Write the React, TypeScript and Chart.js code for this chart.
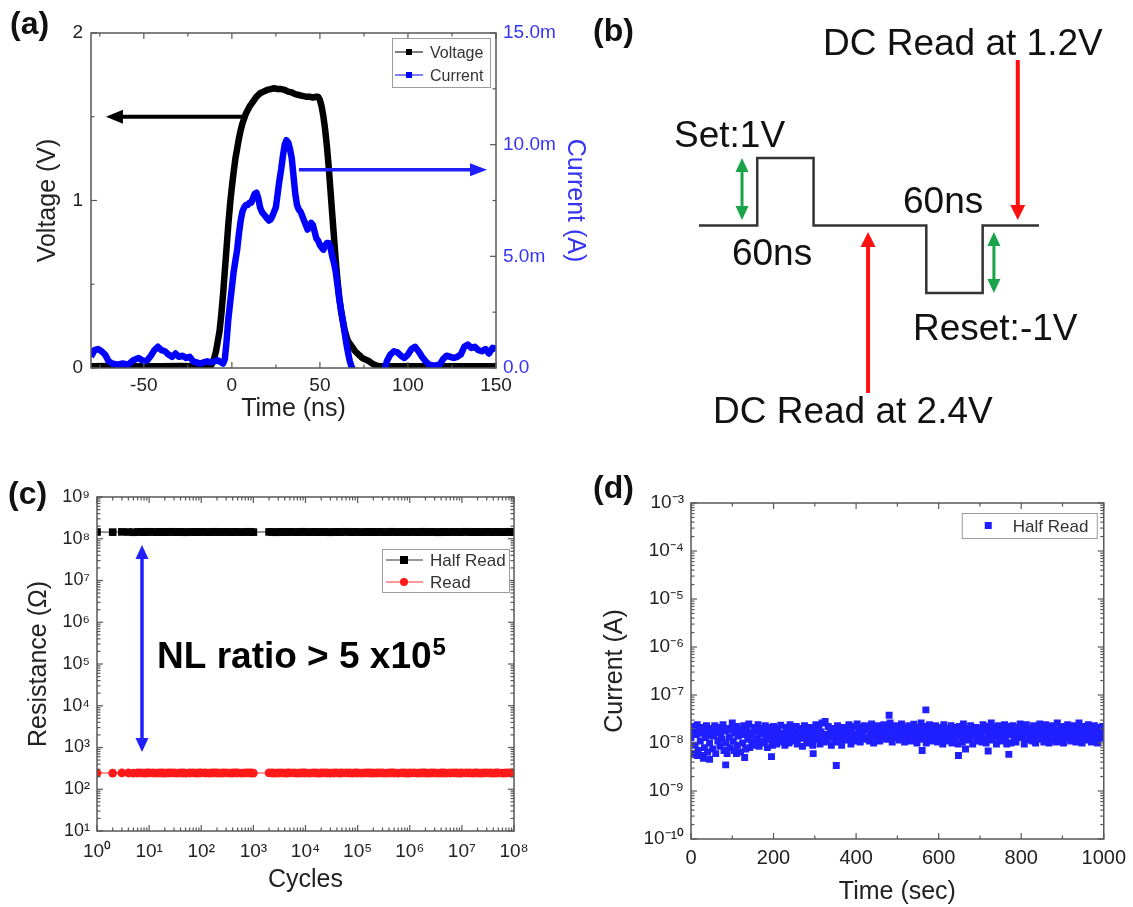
import React, { useEffect, useRef } from 'react';
import { Chart, registerables } from 'chart.js';

Chart.register(...registerables);

const FONT = "'Liberation Sans', Arial, Helvetica, sans-serif";
const INK = '#222222';
const FRAME = '#585858';
const BLUE = '#1f1fff';
const AXIS_BLUE = '#3434f2';

Chart.defaults.font.family = FONT;
Chart.defaults.color = INK;

// ---------------- Panel (a): pulse voltage / current ----------------
const timeTicksNs = [-50, 0, 50, 100, 150];
const timeTickLabels = ['-50', '0', '50', '100', '150'];
const timeMinorNs = [-75, -25, 25, 75, 125];
const voltTicks = [0, 1, 2];
const voltTickLabels = ['0', '1', '2'];
const voltMinor = [0.5, 1.5];
const currTicksMilliA = [0, 5, 10, 15];
const currTickLabels = ['0.0', '5.0m', '10.0m', '15.0m'];
const currMinorMilliA = [2.5, 7.5, 12.5];

const voltageTimeNs = [
  -80, -70, -60, -50, -40, -30, -20,
  -12, -11, -10, -9, -8, -7, -6, -5, -4, -3, -2, -1, 0, 1, 2, 3, 4, 5, 6, 7, 8,
  10, 12, 14, 16, 18, 20, 22, 24, 26, 28, 30, 32, 34, 36, 38, 40, 42, 44, 46, 48,
  49, 50, 51, 52, 53, 54, 55, 56, 57, 58, 59, 60, 61, 62, 63, 64, 65, 66,
  68, 70, 72, 74, 76, 78, 80, 82, 84,
  90, 100, 110, 120, 130, 140, 150,
];
const voltageV = [
  0.01, 0.012, 0.01, 0.011, 0.01, 0.012, 0.01,
  0.012, 0.03, 0.06, 0.1, 0.16, 0.22, 0.32, 0.44, 0.58, 0.72, 0.86, 0.98, 1.08, 1.17, 1.25, 1.31, 1.37, 1.42, 1.46, 1.49, 1.52,
  1.56, 1.59, 1.62, 1.64, 1.65, 1.66, 1.665, 1.67, 1.665, 1.665, 1.66, 1.65, 1.645, 1.635, 1.63, 1.625, 1.62, 1.62, 1.615, 1.62,
  1.62, 1.6, 1.56, 1.5, 1.42, 1.32, 1.2, 1.06, 0.92, 0.78, 0.64, 0.52, 0.42, 0.34, 0.28, 0.23, 0.19, 0.16,
  0.13, 0.1, 0.08, 0.06, 0.05, 0.04, 0.025, 0.015, 0.01,
  0.01, 0.01, 0.01, 0.01, 0.01, 0.01, 0.01,
];

const currentTimeNs = [
  -80, -78, -76, -74, -72, -70, -68, -65, -62, -59, -56, -53, -50, -48, -46, -44, -42, -40, -38, -36,
  -34, -32, -30, -28, -26, -24, -22, -20, -18, -16, -14, -12, -10, -8, -6,
  -5, -4, -3, -2, -1, 0, 1, 2, 3, 4, 5, 6, 7, 8, 9, 10, 11, 12, 13, 14, 15, 16, 17, 18, 19, 20,
  21, 22, 23, 24, 25, 26, 27, 28, 29, 30, 31, 32, 33, 34, 35, 36, 37, 38, 39, 40,
  41, 42, 43, 44, 45, 46, 47, 48, 49, 50, 51, 52, 53, 54, 55, 56, 57, 58, 59, 60,
  61, 62, 63, 64, 65, 66, 67, 68,
  70, 76, 82, 86, 88, 90, 92, 94, 96, 98, 100, 102, 104, 106, 108, 110, 112, 115, 118, 120,
  122, 124, 126, 128, 130, 132, 134, 136, 138, 140, 142, 144, 146, 148, 150,
];
const currentMilliA = [
  0.5, 0.8, 0.85, 0.75, 0.6, 0.3, 0.2, 0.15, 0.2, 0.15, 0.35, 0.45, 0.3, 0.35, 0.55, 0.8, 0.95, 0.8, 0.75, 0.6,
  0.5, 0.65, 0.5, 0.55, 0.45, 0.5, 0.3, 0.25, 0.2, 0.25, 0.3, 0.25, 0.3, 0.35, 0.25,
  0.2, 0.4, 1.2, 2.2, 2.9, 3.6, 4.3, 4.8, 5.3, 6.0, 6.6, 7.0, 7.2, 7.3, 7.3, 7.4, 7.4, 7.6, 7.8, 7.85, 7.6, 7.2, 7.0, 6.9, 6.8, 6.7,
  6.6, 6.65, 6.8, 7.0, 7.2, 7.8, 8.4, 8.9, 9.5, 10.0, 10.2, 10.1, 9.8, 9.4, 8.6, 7.8, 7.3, 7.1, 7.0, 6.8,
  6.6, 6.4, 6.2, 6.3, 6.5, 6.4, 6.1, 5.8, 5.7, 5.5, 5.4, 5.3, 5.5, 5.6, 5.6, 5.4, 5.0, 4.7, 4.3, 3.7,
  3.1, 2.6, 2.15, 1.6, 1.1, 0.67, 0.3, 0.05,
  -0.3, -0.3, -0.3, -0.3, 0.3, 0.6, 0.75, 0.7, 0.55, 0.45, 0.6, 0.85, 0.95, 0.75, 0.5, 0.3, 0.15, 0.1, 0.15, 0.4,
  0.55, 0.5, 0.45, 0.5, 0.6, 0.95, 1.05, 0.9, 0.95, 0.8, 0.75, 0.85, 0.65, 0.9, 0.85,
];

// ---------------- Panel (b): pulse scheme ----------------
const waveTimeNs = [0, 62, 62, 122, 122, 242, 242, 302, 302, 362];
const waveLevelV = [0, 0, 1, 1, 0, 0, -1, -1, 0, 0];

// ---------------- Panel (c): endurance ----------------
const cycleTicks = [1, 10, 100, 1e3, 1e4, 1e5, 1e6, 1e7, 1e8];
const cycleTickLabels = ['10⁰', '10¹', '10²', '10³', '10⁴', '10⁵', '10⁶', '10⁷', '10⁸'];
const resistanceTicks = [10, 100, 1e3, 1e4, 1e5, 1e6, 1e7, 1e8, 1e9];
const resistanceTickLabels = ['10¹', '10²', '10³', '10⁴', '10⁵', '10⁶', '10⁷', '10⁸', '10⁹'];

const cycles = [
  1, 2, 3, 4, 5, 6, 7, 8, 9,
  10, 12, 14, 16, 18, 20, 23, 26, 30, 35, 40, 45, 50, 60, 70, 80, 90,
  100, 120, 140, 160, 180, 200, 230, 260, 300, 350, 400, 450, 500, 600, 700, 800, 900,
  1000,
  2000, 2300, 2600, 3000, 3500, 4000, 4500, 5000, 6000, 7000, 8000, 9000,
  1e4, 1.2e4, 1.4e4, 1.6e4, 1.8e4, 2e4, 2.3e4, 2.6e4, 3e4, 3.5e4, 4e4, 4.5e4, 5e4, 6e4, 7e4, 8e4, 9e4,
  1e5, 1.2e5, 1.4e5, 1.6e5, 1.8e5, 2e5, 2.3e5, 2.6e5, 3e5, 3.5e5, 4e5, 4.5e5, 5e5, 6e5, 7e5, 8e5, 9e5,
  1e6, 1.2e6, 1.4e6, 1.6e6, 1.8e6, 2e6, 2.3e6, 2.6e6, 3e6, 3.5e6, 4e6, 4.5e6, 5e6, 6e6, 7e6, 8e6, 9e6,
  1e7, 1.2e7, 1.4e7, 1.6e7, 1.8e7, 2e7, 2.3e7, 2.6e7, 3e7, 3.5e7, 4e7, 4.5e7, 5e7, 6e7, 7e7, 8e7, 9e7,
  1e8,
];
const halfReadOhm = [
  1.45e8, 1.44e8, 1.46e8, 1.45e8, 1.43e8, 1.45e8, 1.46e8, 1.44e8, 1.45e8,
  1.47e8, 1.45e8, 1.44e8, 1.46e8, 1.45e8, 1.44e8, 1.45e8, 1.47e8, 1.45e8, 1.44e8, 1.46e8, 1.45e8, 1.43e8, 1.45e8, 1.46e8, 1.44e8, 1.45e8,
  1.46e8, 1.45e8, 1.44e8, 1.45e8, 1.47e8, 1.45e8, 1.44e8, 1.45e8, 1.46e8, 1.44e8, 1.45e8, 1.46e8, 1.45e8, 1.44e8, 1.45e8, 1.47e8, 1.45e8,
  1.44e8,
  1.46e8, 1.45e8, 1.43e8, 1.45e8, 1.46e8, 1.44e8, 1.45e8, 1.46e8, 1.45e8, 1.44e8, 1.45e8, 1.47e8,
  1.45e8, 1.44e8, 1.46e8, 1.45e8, 1.44e8, 1.45e8, 1.46e8, 1.45e8, 1.43e8, 1.45e8, 1.46e8, 1.44e8, 1.45e8, 1.47e8, 1.45e8, 1.44e8, 1.46e8,
  1.45e8, 1.44e8, 1.45e8, 1.46e8, 1.45e8, 1.44e8, 1.45e8, 1.46e8, 1.45e8, 1.44e8, 1.45e8, 1.47e8, 1.45e8, 1.44e8, 1.46e8, 1.45e8, 1.44e8,
  1.45e8, 1.46e8, 1.44e8, 1.45e8, 1.47e8, 1.45e8, 1.44e8, 1.46e8, 1.45e8, 1.43e8, 1.45e8, 1.46e8, 1.44e8, 1.45e8, 1.46e8, 1.45e8, 1.44e8,
  1.45e8, 1.47e8, 1.45e8, 1.44e8, 1.46e8, 1.45e8, 1.44e8, 1.45e8, 1.46e8, 1.45e8, 1.44e8, 1.45e8, 1.46e8, 1.44e8, 1.45e8, 1.47e8, 1.45e8,
  1.45e8,
];
const readOhm = [
  245, 244, 246, 245, 243, 245, 246, 244, 245,
  247, 245, 244, 246, 245, 244, 245, 247, 245, 244, 246, 245, 243, 245, 246, 244, 245,
  246, 245, 244, 245, 247, 245, 244, 245, 246, 244, 245, 246, 245, 244, 245, 247, 245,
  244,
  246, 245, 243, 245, 246, 244, 245, 246, 245, 244, 245, 247,
  245, 244, 246, 245, 244, 245, 246, 245, 243, 245, 246, 244, 245, 247, 245, 244, 246,
  245, 244, 245, 246, 245, 244, 245, 246, 245, 244, 245, 247, 245, 244, 246, 245, 244,
  245, 246, 244, 245, 247, 245, 244, 246, 245, 243, 245, 246, 244, 245, 246, 245, 244,
  245, 247, 245, 244, 246, 245, 244, 245, 246, 245, 244, 245, 246, 244, 245, 247, 245,
  245,
];

// ---------------- Panel (d): half-read retention ----------------
const timeSecTicks = [0, 200, 400, 600, 800, 1000];
const timeSecTickLabels = ['0', '200', '400', '600', '800', '1000'];
const timeSecMinor = [100, 300, 500, 700, 900];
const currentTicksA = [1e-10, 1e-9, 1e-8, 1e-7, 1e-6, 1e-5, 1e-4, 1e-3];
const currentTickLabelsA = ['10⁻¹⁰', '10⁻⁹', '10⁻⁸', '10⁻⁷', '10⁻⁶', '10⁻⁵', '10⁻⁴', '10⁻³'];

const halfReadTimeSec = [
  0, 2.5, 5, 7.5, 10, 12.5, 15, 17.5, 20, 22.5,
  25, 27.5, 30, 32.5, 35, 37.5, 40, 42.5, 45, 47.5,
  50, 52.5, 55, 57.5, 60, 62.5, 65, 67.5, 70, 72.5,
  75, 77.5, 80, 82.5, 85, 87.5, 90, 92.5, 95, 97.5,
  100, 102.5, 105, 107.5, 110, 112.5, 115, 117.5, 120, 122.5,
  125, 127.5, 130, 132.5, 135, 137.5, 140, 142.5, 145, 147.5,
  150, 152.5, 155, 157.5, 160, 162.5, 165, 167.5, 170, 172.5,
  175, 177.5, 180, 182.5, 185, 187.5, 190, 192.5, 195, 197.5,
  200, 202.5, 205, 207.5, 210, 212.5, 215, 217.5, 220, 222.5,
  225, 227.5, 230, 232.5, 235, 237.5, 240, 242.5, 245, 247.5,
  250, 252.5, 255, 257.5, 260, 262.5, 265, 267.5, 270, 272.5,
  275, 277.5, 280, 282.5, 285, 287.5, 290, 292.5, 295, 297.5,
  300, 302.5, 305, 307.5, 310, 312.5, 315, 317.5, 320, 322.5,
  325, 327.5, 330, 332.5, 335, 337.5, 340, 342.5, 345, 347.5,
  350, 352.5, 355, 357.5, 360, 362.5, 365, 367.5, 370, 372.5,
  375, 377.5, 380, 382.5, 385, 387.5, 390, 392.5, 395, 397.5,
  400, 402.5, 405, 407.5, 410, 412.5, 415, 417.5, 420, 422.5,
  425, 427.5, 430, 432.5, 435, 437.5, 440, 442.5, 445, 447.5,
  450, 452.5, 455, 457.5, 460, 462.5, 465, 467.5, 470, 472.5,
  475, 477.5, 480, 482.5, 485, 487.5, 490, 492.5, 495, 497.5,
  500, 502.5, 505, 507.5, 510, 512.5, 515, 517.5, 520, 522.5,
  525, 527.5, 530, 532.5, 535, 537.5, 540, 542.5, 545, 547.5,
  550, 552.5, 555, 557.5, 560, 562.5, 565, 567.5, 570, 572.5,
  575, 577.5, 580, 582.5, 585, 587.5, 590, 592.5, 595, 597.5,
  600, 602.5, 605, 607.5, 610, 612.5, 615, 617.5, 620, 622.5,
  625, 627.5, 630, 632.5, 635, 637.5, 640, 642.5, 645, 647.5,
  650, 652.5, 655, 657.5, 660, 662.5, 665, 667.5, 670, 672.5,
  675, 677.5, 680, 682.5, 685, 687.5, 690, 692.5, 695, 697.5,
  700, 702.5, 705, 707.5, 710, 712.5, 715, 717.5, 720, 722.5,
  725, 727.5, 730, 732.5, 735, 737.5, 740, 742.5, 745, 747.5,
  750, 752.5, 755, 757.5, 760, 762.5, 765, 767.5, 770, 772.5,
  775, 777.5, 780, 782.5, 785, 787.5, 790, 792.5, 795, 797.5,
  800, 802.5, 805, 807.5, 810, 812.5, 815, 817.5, 820, 822.5,
  825, 827.5, 830, 832.5, 835, 837.5, 840, 842.5, 845, 847.5,
  850, 852.5, 855, 857.5, 860, 862.5, 865, 867.5, 870, 872.5,
  875, 877.5, 880, 882.5, 885, 887.5, 890, 892.5, 895, 897.5,
  900, 902.5, 905, 907.5, 910, 912.5, 915, 917.5, 920, 922.5,
  925, 927.5, 930, 932.5, 935, 937.5, 940, 942.5, 945, 947.5,
  950, 952.5, 955, 957.5, 960, 962.5, 965, 967.5, 970, 972.5,
  975, 977.5, 980, 982.5, 985, 987.5, 990, 992.5, 995, 997.5,
  1000,
];
const halfReadCurrentA = [
  1.3e-8, 2.2e-8, 0.6e-8, 1.7e-8, 0.9e-8, 1.5e-8, 2.4e-8, 0.7e-8, 1.9e-8, 1.1e-8,
  0.55e-8, 1.6e-8, 2.1e-8, 0.8e-8, 1.3e-8, 2.3e-8, 0.65e-8, 1.8e-8, 1.0e-8, 1.45e-8,
  2.0e-8, 0.75e-8, 1.4e-8, 2.3e-8, 0.6e-8, 1.65e-8, 1.1e-8, 2.1e-8, 0.85e-8, 1.5e-8,
  1.2e-8, 2.4e-8, 0.7e-8, 1.8e-8, 1.0e-8, 0.6e-8, 2.0e-8, 1.35e-8, 0.8e-8, 1.9e-8,
  2.6e-8, 1.1e-8, 0.7e-8, 1.6e-8, 2.2e-8, 0.9e-8, 1.4e-8, 2.0e-8, 0.65e-8, 1.7e-8,
  1.0e-8, 2.3e-8, 1.5e-8, 0.75e-8, 1.9e-8, 1.2e-8, 2.5e-8, 0.8e-8, 1.6e-8, 1.05e-8,
  1.45e-8, 2.1e-8, 0.9e-8, 1.75e-8, 1.2e-8, 2.4e-8, 0.85e-8, 1.55e-8, 2.0e-8, 1.1e-8,
  1.8e-8, 1.0e-8, 2.3e-8, 1.3e-8, 0.8e-8, 1.65e-8, 2.1e-8, 1.15e-8, 1.5e-8, 0.9e-8,
  2.2e-8, 1.25e-8, 1.7e-8, 0.95e-8, 2.0e-8, 1.4e-8, 1.05e-8, 2.35e-8, 1.6e-8, 1.15e-8,
  1.5e-8, 0.9e-8, 2.1e-8, 1.3e-8, 1.8e-8, 1.0e-8, 2.4e-8, 1.6e-8, 1.2e-8, 1.95e-8,
  1.1e-8, 1.7e-8, 2.2e-8, 0.95e-8, 1.45e-8, 2.0e-8, 1.25e-8, 1.8e-8, 0.85e-8, 1.6e-8,
  2.3e-8, 1.35e-8, 1.0e-8, 1.9e-8, 1.5e-8, 2.1e-8, 1.15e-8, 1.7e-8, 0.9e-8, 1.4e-8,
  1.8e-8, 2.4e-8, 1.2e-8, 1.55e-8, 2.0e-8, 0.95e-8, 1.7e-8, 2.6e-8, 1.3e-8, 1.05e-8,
  2.8e-8, 1.5e-8, 1.1e-8, 2.2e-8, 1.35e-8, 1.8e-8, 0.9e-8, 2.0e-8, 1.6e-8, 1.25e-8,
  1.7e-8, 1.05e-8, 2.3e-8, 1.45e-8, 1.9e-8, 1.2e-8, 0.9e-8, 2.1e-8, 1.55e-8, 1.3e-8,
  2.0e-8, 1.15e-8, 1.6e-8, 2.4e-8, 1.3e-8, 0.95e-8, 1.85e-8, 1.4e-8, 2.2e-8, 1.1e-8,
  1.5e-8, 2.5e-8, 1.25e-8, 1.8e-8, 1.05e-8, 2.1e-8, 1.6e-8, 1.35e-8, 2.3e-8, 1.2e-8,
  1.9e-8, 1.3e-8, 2.2e-8, 1.1e-8, 1.7e-8, 2.5e-8, 1.45e-8, 1.0e-8, 2.0e-8, 1.6e-8,
  1.35e-8, 2.3e-8, 1.55e-8, 1.1e-8, 2.0e-8, 1.75e-8, 1.25e-8, 2.4e-8, 1.5e-8, 1.9e-8,
  1.2e-8, 2.1e-8, 1.65e-8, 2.6e-8, 1.4e-8, 1.05e-8, 1.95e-8, 2.3e-8, 1.3e-8, 1.7e-8,
  2.2e-8, 1.5e-8, 1.15e-8, 1.85e-8, 2.5e-8, 1.3e-8, 1.7e-8, 1.05e-8, 2.1e-8, 1.6e-8,
  1.4e-8, 2.3e-8, 1.8e-8, 1.1e-8, 2.0e-8, 1.55e-8, 2.45e-8, 1.25e-8, 1.75e-8, 1.0e-8,
  2.1e-8, 1.35e-8, 1.9e-8, 2.6e-8, 1.2e-8, 1.6e-8, 2.2e-8, 1.45e-8, 1.0e-8, 1.8e-8,
  1.3e-8, 2.4e-8, 1.7e-8, 1.1e-8, 2.0e-8, 1.5e-8, 1.25e-8, 2.3e-8, 1.85e-8, 1.05e-8,
  1.6e-8, 2.1e-8, 1.2e-8, 1.9e-8, 0.95e-8, 2.4e-8, 1.45e-8, 1.75e-8, 1.1e-8, 2.0e-8,
  1.35e-8, 1.8e-8, 2.3e-8, 1.0e-8, 1.6e-8, 2.1e-8, 1.25e-8, 1.9e-8, 1.5e-8, 0.95e-8,
  2.2e-8, 1.4e-8, 1.7e-8, 1.05e-8, 2.5e-8, 1.3e-8, 1.85e-8, 1.15e-8, 2.0e-8, 1.55e-8,
  1.2e-8, 2.3e-8, 1.6e-8, 0.95e-8, 1.9e-8, 1.4e-8, 2.1e-8, 1.1e-8, 1.75e-8, 1.3e-8,
  2.0e-8, 1.5e-8, 1.05e-8, 2.4e-8, 1.25e-8, 1.8e-8, 1.0e-8, 2.2e-8, 1.6e-8, 1.35e-8,
  1.7e-8, 2.6e-8, 1.15e-8, 1.9e-8, 1.4e-8, 2.1e-8, 0.95e-8, 1.55e-8, 2.3e-8, 1.2e-8,
  1.45e-8, 2.0e-8, 1.1e-8, 1.75e-8, 2.4e-8, 1.3e-8, 0.95e-8, 1.85e-8, 1.5e-8, 2.2e-8,
  1.0e-8, 1.6e-8, 2.3e-8, 1.25e-8, 1.9e-8, 1.05e-8, 2.1e-8, 1.4e-8, 1.7e-8, 2.5e-8,
  1.3e-8, 2.2e-8, 1.55e-8, 0.95e-8, 1.8e-8, 2.4e-8, 1.15e-8, 1.65e-8, 2.0e-8, 1.25e-8,
  1.9e-8, 1.1e-8, 2.3e-8, 1.5e-8, 1.0e-8, 2.1e-8, 1.35e-8, 1.75e-8, 2.5e-8, 1.2e-8,
  1.6e-8, 2.0e-8, 1.05e-8, 1.85e-8, 2.4e-8, 1.3e-8, 1.5e-8, 1.0e-8, 2.2e-8, 1.7e-8,
  1.15e-8, 2.3e-8, 1.45e-8, 1.9e-8, 1.05e-8, 2.6e-8, 1.35e-8, 1.8e-8, 1.1e-8, 2.1e-8,
  1.5e-8, 1.0e-8, 2.2e-8, 1.7e-8, 1.25e-8, 2.4e-8, 1.4e-8, 1.95e-8, 1.1e-8, 1.6e-8,
  2.3e-8, 1.3e-8, 1.8e-8, 1.05e-8, 2.1e-8, 1.5e-8, 2.6e-8, 1.2e-8, 1.75e-8, 1.0e-8,
  1.9e-8, 1.4e-8, 2.2e-8, 1.15e-8, 1.65e-8, 2.4e-8, 1.3e-8, 1.85e-8, 1.05e-8, 2.0e-8,
  1.5e-8, 2.3e-8, 1.2e-8, 1.75e-8, 1.0e-8, 2.1e-8, 1.45e-8, 1.9e-8, 1.25e-8, 2.2e-8,
  1.6e-8,
];
const outlierTimeSec = [15, 30, 45, 84, 110, 130, 195, 296, 352, 480, 560, 569, 648, 665, 720, 770];
const outlierCurrentA = [5.5e-9, 4.8e-9, 4.6e-9, 3.5e-9, 6.0e-9, 5.0e-9, 5.2e-9, 6.0e-9, 3.4e-9, 3.8e-8, 7.0e-9, 4.9e-8, 5.5e-9, 7.5e-9, 6.8e-9, 5.8e-9];

// ---------------- helpers ----------------
type Side = 'left' | 'right' | 'top' | 'bottom';
interface TickSpec { scale: string; major: number[]; minor: number[]; sides: Side[] }

function logMinors(ticks: number[]): number[] {
  const out: number[] = [];
  for (let i = 0; i < ticks.length - 1; i++) {
    for (let m = 2; m <= 9; m++) out.push(ticks[i] * m);
  }
  return out;
}

function framePlugin(specs: TickSpec[]) {
  return {
    id: 'frameTicks',
    afterDatasetsDraw(chart: any) {
      const { ctx, chartArea: a } = chart;
      ctx.save();
      ctx.strokeStyle = FRAME;
      ctx.lineWidth = 1.5;
      ctx.strokeRect(a.left, a.top, a.right - a.left, a.bottom - a.top);
      ctx.lineWidth = 1.2;
      specs.forEach((s) => {
        const sc = chart.scales[s.scale];
        const mark = (v: number, len: number) => {
          const p = sc.getPixelForValue(v);
          s.sides.forEach((side) => {
            ctx.beginPath();
            if (side === 'bottom') { ctx.moveTo(p, a.bottom); ctx.lineTo(p, a.bottom - len); }
            if (side === 'top') { ctx.moveTo(p, a.top); ctx.lineTo(p, a.top + len); }
            if (side === 'left') { ctx.moveTo(a.left, p); ctx.lineTo(a.left + len, p); }
            if (side === 'right') { ctx.moveTo(a.right, p); ctx.lineTo(a.right - len, p); }
            ctx.stroke();
          });
        };
        s.major.forEach((v) => mark(v, 6));
        s.minor.forEach((v) => mark(v, 3.5));
      });
      ctx.restore();
    },
  };
}

function drawArrow(ctx: CanvasRenderingContext2D, x1: number, y1: number, x2: number, y2: number,
  color: string, width: number, headLen: number, headW: number, both: boolean) {
  const ang = Math.atan2(y2 - y1, x2 - x1);
  const c = Math.cos(ang);
  const s = Math.sin(ang);
  const head = (x: number, y: number, dir: number) => {
    const cc = Math.cos(dir);
    const ss = Math.sin(dir);
    ctx.beginPath();
    ctx.moveTo(x, y);
    ctx.lineTo(x - headLen * cc + (headW / 2) * ss, y - headLen * ss - (headW / 2) * cc);
    ctx.lineTo(x - headLen * cc - (headW / 2) * ss, y - headLen * ss + (headW / 2) * cc);
    ctx.closePath();
    ctx.fill();
  };
  ctx.save();
  ctx.strokeStyle = color;
  ctx.fillStyle = color;
  ctx.lineWidth = width;
  const sx = both ? x1 + headLen * 0.8 * c : x1;
  const sy = both ? y1 + headLen * 0.8 * s : y1;
  ctx.beginPath();
  ctx.moveTo(sx, sy);
  ctx.lineTo(x2 - headLen * 0.8 * c, y2 - headLen * 0.8 * s);
  ctx.stroke();
  head(x2, y2, ang);
  if (both) head(x1, y1, ang + Math.PI);
  ctx.restore();
}

function drawText(ctx: CanvasRenderingContext2D, str: string, x: number, y: number, size: number,
  color: string, weight = 'normal', align: CanvasTextAlign = 'left') {
  ctx.save();
  ctx.font = `${weight} ${size}px ${FONT}`;
  ctx.fillStyle = color;
  ctx.textAlign = align;
  ctx.textBaseline = 'alphabetic';
  ctx.fillText(str, x, y);
  ctx.restore();
}

function legendFrame(ctx: CanvasRenderingContext2D, x: number, y: number, w: number, h: number) {
  ctx.save();
  ctx.fillStyle = '#ffffff';
  ctx.fillRect(x, y, w, h);
  ctx.strokeStyle = '#9c9c9c';
  ctx.lineWidth = 1;
  ctx.strokeRect(x + 0.5, y + 0.5, w, h);
  ctx.restore();
}

function fixedTicks(values: number[]) {
  return (scale: any) => { scale.ticks = values.map((v) => ({ value: v })); };
}

const baseOptions = {
  animation: false,
  responsive: false,
  maintainAspectRatio: false,
  devicePixelRatio: 1,
  events: [],
};

// ---------------- chart configs ----------------
function makePanelA(): any {
  const annotations = {
    id: 'annotA',
    afterDraw(chart: any) {
      const { ctx, chartArea: a } = chart;
      const xs = chart.scales.x;
      const ys = chart.scales.y;
      const y2 = chart.scales.y2;
      drawText(ctx, '(a)', 10, 34, 32, '#111', 'bold');
      drawArrow(ctx, xs.getPixelForValue(8), ys.getPixelForValue(1.5), xs.getPixelForValue(-71.5), ys.getPixelForValue(1.5), '#000', 4, 17, 14, false);
      drawArrow(ctx, xs.getPixelForValue(38.1), y2.getPixelForValue(8.88), xs.getPixelForValue(144.9), y2.getPixelForValue(8.88), BLUE, 3.5, 17, 13, false);
      const lx = a.right - 104;
      const ly = a.top + 5;
      legendFrame(ctx, lx, ly, 98, 49);
      const rows = [
        { label: 'Voltage', color: '#000', y: ly + 14 },
        { label: 'Current', color: '#0000ff', y: ly + 37 },
      ];
      rows.forEach((r) => {
        ctx.save();
        ctx.strokeStyle = r.color;
        ctx.lineWidth = 1;
        ctx.beginPath();
        ctx.moveTo(lx + 3, r.y);
        ctx.lineTo(lx + 31, r.y);
        ctx.stroke();
        ctx.fillStyle = r.color;
        ctx.fillRect(lx + 14, r.y - 3, 6, 6);
        ctx.restore();
        drawText(ctx, r.label, lx + 38, r.y + 6, 16, '#333');
      });
    },
  };
  return {
    type: 'scatter',
    data: {
      datasets: [
        {
          label: 'Current',
          data: currentTimeNs.map((t, i) => ({ x: t, y: currentMilliA[i] })),
          yAxisID: 'y2', showLine: true, borderColor: '#0000ff', borderWidth: 6.5,
          pointRadius: 0, clip: 0, borderJoinStyle: 'round',
        },
        {
          label: 'Voltage',
          data: voltageTimeNs.map((t, i) => ({ x: t, y: voltageV[i] })),
          yAxisID: 'y', showLine: true, borderColor: '#000000', borderWidth: 6.5,
          pointRadius: 0, clip: 0, borderJoinStyle: 'round',
        },
      ],
    },
    options: {
      ...baseOptions,
      layout: { padding: { top: 33, left: 0, right: 0, bottom: 0 } },
      plugins: { legend: { display: false }, tooltip: { enabled: false } },
      scales: {
        x: {
          type: 'linear', position: 'bottom', min: -80, max: 150,
          grid: { display: false, drawTicks: false }, border: { display: false },
          afterBuildTicks: fixedTicks(timeTicksNs),
          afterFit: (s: any) => { s.height = 62; },
          ticks: {
            callback: (v: number) => timeTickLabels[timeTicksNs.indexOf(v)],
            color: INK, font: { size: 19 }, padding: 6, maxRotation: 0, autoSkip: false,
          },
          title: { display: true, text: 'Time (ns)', color: INK, font: { size: 25 }, padding: { top: 0, bottom: 6 } },
        },
        y: {
          type: 'linear', position: 'left', min: 0, max: 2,
          grid: { display: false, drawTicks: false }, border: { display: false },
          afterBuildTicks: fixedTicks(voltTicks),
          afterFit: (s: any) => { s.width = 91; },
          ticks: {
            callback: (v: number) => voltTickLabels[voltTicks.indexOf(v)],
            color: INK, font: { size: 19 }, padding: 8, autoSkip: false,
          },
          title: { display: true, text: 'Voltage (V)', color: INK, font: { size: 25 }, padding: { top: 33, bottom: 0 } },
        },
        y2: {
          type: 'linear', position: 'right', min: 0, max: 15,
          grid: { display: false, drawTicks: false }, border: { display: false },
          afterBuildTicks: fixedTicks(currTicksMilliA),
          afterFit: (s: any) => { s.width = 104; },
          ticks: {
            callback: (v: number) => currTickLabels[currTicksMilliA.indexOf(v)],
            color: AXIS_BLUE, font: { size: 19 }, padding: 7, autoSkip: false,
          },
          title: { display: true, text: 'Current (A)', color: AXIS_BLUE, font: { size: 25 }, padding: { top: 10, bottom: 0 } },
        },
      },
    },
    plugins: [
      framePlugin([
        { scale: 'x', major: timeTicksNs, minor: timeMinorNs, sides: ['bottom', 'top'] },
        { scale: 'y', major: voltTicks, minor: voltMinor, sides: ['left'] },
        { scale: 'y2', major: currTicksMilliA, minor: currMinorMilliA, sides: ['right'] },
      ]),
      annotations,
    ],
  };
}

function makePanelB(): any {
  const annotations = {
    id: 'annotB',
    afterDraw(chart: any) {
      const { ctx } = chart;
      const xs = chart.scales.x;
      const ys = chart.scales.y;
      const X = (t: number) => xs.getPixelForValue(t);
      const Y = (v: number) => ys.getPixelForValue(v);
      drawText(ctx, '(b)', 33, 41, 32, '#111', 'bold');
      const RED = '#ff1010';
      const GREEN = '#19a34a';
      drawArrow(ctx, X(339.4), Y(2.452), X(339.4), Y(0.081), RED, 4, 15, 15, false);
      drawArrow(ctx, X(180), Y(-2.48), X(180), Y(-0.096), RED, 4, 15, 15, false);
      drawArrow(ctx, X(45.8), Y(1.0), X(45.8), Y(0.081), GREEN, 3, 14, 13, true);
      drawArrow(ctx, X(314), Y(-0.096), X(314), Y(-1.0), GREEN, 3, 14, 13, true);
      const sz = 37;
      drawText(ctx, 'DC Read at 1.2V', X(132), Y(2.526), sz, '#111');
      drawText(ctx, 'Set:1V', X(-26.6), Y(1.163), sz, '#111');
      drawText(ctx, '60ns', X(35.1), Y(-0.585), sz, '#111');
      drawText(ctx, '60ns', X(217.2), Y(0.185), sz, '#111');
      drawText(ctx, 'Reset:-1V', X(227.8), Y(-1.696), sz, '#111');
      drawText(ctx, 'DC Read at 2.4V', X(14.9), Y(-2.926), sz, '#111');
    },
  };
  return {
    type: 'scatter',
    data: {
      datasets: [
        {
          label: 'Pulse',
          data: waveTimeNs.map((t, i) => ({ x: t, y: waveLevelV[i] })),
          showLine: true, borderColor: '#333333', borderWidth: 2.5, pointRadius: 0, clip: false,
        },
      ],
    },
    options: {
      ...baseOptions,
      layout: { padding: { left: 139, right: 94, top: 158, bottom: 137 } },
      plugins: { legend: { display: false }, tooltip: { enabled: false } },
      scales: {
        x: { type: 'linear', min: 0, max: 362, display: false },
        y: { type: 'linear', min: -1, max: 1, display: false },
      },
    },
    plugins: [annotations],
  };
}

function makePanelC(): any {
  const annotations = {
    id: 'annotC',
    afterDraw(chart: any) {
      const { ctx, chartArea: a } = chart;
      const xs = chart.scales.x;
      const ys = chart.scales.y;
      drawText(ctx, '(c)', 8, 44, 32, '#111', 'bold');
      drawArrow(ctx, xs.getPixelForValue(7.3), ys.getPixelForValue(7.1e7), xs.getPixelForValue(7.3), ys.getPixelForValue(780), BLUE, 3.5, 14, 13, true);
      const tx = xs.getPixelForValue(14.2);
      const ty = ys.getPixelForValue(8.0e4);
      ctx.save();
      ctx.font = `bold 37px ${FONT}`;
      const w = ctx.measureText('NL ratio > 5 x10').width;
      ctx.restore();
      drawText(ctx, 'NL ratio > 5 x10', tx, ty, 37, '#000', 'bold');
      drawText(ctx, '5', tx + w + 1, ty - 13, 24, '#000', 'bold');
      const lx = a.right - 132;
      const ly = a.top + 52;
      legendFrame(ctx, lx, ly, 127, 43);
      ctx.save();
      ctx.lineWidth = 1;
      ctx.strokeStyle = '#333';
      ctx.beginPath(); ctx.moveTo(lx + 4, ly + 11); ctx.lineTo(lx + 41, ly + 11); ctx.stroke();
      ctx.fillStyle = '#000';
      ctx.fillRect(lx + 18, ly + 7, 8, 8);
      ctx.strokeStyle = '#ff3030';
      ctx.beginPath(); ctx.moveTo(lx + 4, ly + 33); ctx.lineTo(lx + 41, ly + 33); ctx.stroke();
      ctx.fillStyle = '#ff1a1a';
      ctx.beginPath(); ctx.arc(lx + 22, ly + 33, 4, 0, Math.PI * 2); ctx.fill();
      ctx.restore();
      drawText(ctx, 'Half Read', lx + 48, ly + 17, 17, '#333');
      drawText(ctx, 'Read', lx + 48, ly + 39, 17, '#333');
    },
  };
  return {
    type: 'scatter',
    data: {
      datasets: [
        {
          label: 'Half Read',
          data: cycles.map((c, i) => ({ x: c, y: halfReadOhm[i] })),
          showLine: true, borderColor: '#333333', borderWidth: 1,
          pointStyle: 'rect', pointRadius: 5.4, pointBackgroundColor: '#000000', pointBorderWidth: 0,
        },
        {
          label: 'Read',
          data: cycles.map((c, i) => ({ x: c, y: readOhm[i] })),
          showLine: true, borderColor: '#ff3030', borderWidth: 1,
          pointStyle: 'circle', pointRadius: 4.4, pointBackgroundColor: '#ff1a1a', pointBorderWidth: 0,
        },
      ],
    },
    options: {
      ...baseOptions,
      layout: { padding: { top: 37, left: 0, right: 46, bottom: 0 } },
      plugins: { legend: { display: false }, tooltip: { enabled: false } },
      scales: {
        x: {
          type: 'logarithmic', position: 'bottom', min: 1, max: 1e8,
          grid: { display: false, drawTicks: false }, border: { display: false },
          afterBuildTicks: fixedTicks(cycleTicks),
          afterFit: (s: any) => { s.height = 76; },
          ticks: {
            callback: (v: number) => cycleTickLabels[cycleTicks.indexOf(v)],
            color: INK, font: { size: 19 }, padding: 9, maxRotation: 0, autoSkip: false,
          },
          title: { display: true, text: 'Cycles', color: INK, font: { size: 25 }, padding: { top: 0, bottom: 12 } },
        },
        y: {
          type: 'logarithmic', position: 'left', min: 10, max: 1e9,
          grid: { display: false, drawTicks: false }, border: { display: false },
          afterBuildTicks: fixedTicks(resistanceTicks),
          afterFit: (s: any) => { s.width = 97; },
          ticks: {
            callback: (v: number) => resistanceTickLabels[resistanceTicks.indexOf(v)],
            color: INK, font: { size: 18 }, padding: 7, autoSkip: false,
          },
          title: { display: true, text: 'Resistance (Ω)', color: INK, font: { size: 25 }, padding: { top: 24, bottom: 0 } },
        },
      },
    },
    plugins: [
      framePlugin([
        { scale: 'x', major: cycleTicks, minor: logMinors(cycleTicks), sides: ['bottom', 'top'] },
        { scale: 'y', major: resistanceTicks, minor: logMinors(resistanceTicks), sides: ['left', 'right'] },
      ]),
      annotations,
    ],
  };
}

function makePanelD(): any {
  const annotations = {
    id: 'annotD',
    afterDraw(chart: any) {
      const { ctx, chartArea: a } = chart;
      drawText(ctx, '(d)', 33, 38, 32, '#111', 'bold');
      const lx = a.right - 142;
      const ly = a.top + 10;
      legendFrame(ctx, lx, ly, 135, 25);
      ctx.save();
      ctx.fillStyle = BLUE;
      ctx.fillRect(lx + 23, ly + 9, 7, 7);
      ctx.restore();
      drawText(ctx, 'Half Read', lx + 51, ly + 19, 17, '#333');
    },
  };
  const points = halfReadTimeSec.map((t, i) => ({ x: t, y: halfReadCurrentA[i] }))
    .concat(outlierTimeSec.map((t, i) => ({ x: t, y: outlierCurrentA[i] })));
  return {
    type: 'scatter',
    data: {
      datasets: [
        {
          label: 'Half Read',
          data: points,
          showLine: false, pointStyle: 'rect', pointRadius: 4.9,
          pointBackgroundColor: BLUE, pointBorderWidth: 0,
        },
      ],
    },
    options: {
      ...baseOptions,
      layout: { padding: { top: 43, left: 0, right: 27, bottom: 0 } },
      plugins: { legend: { display: false }, tooltip: { enabled: false } },
      scales: {
        x: {
          type: 'linear', position: 'bottom', min: 0, max: 1000,
          grid: { display: false, drawTicks: false }, border: { display: false },
          afterBuildTicks: fixedTicks(timeSecTicks),
          afterFit: (s: any) => { s.height = 68; },
          ticks: {
            callback: (v: number) => timeSecTickLabels[timeSecTicks.indexOf(v)],
            color: INK, font: { size: 20 }, padding: 7, maxRotation: 0, autoSkip: false,
          },
          title: { display: true, text: 'Time (sec)', color: INK, font: { size: 25 }, padding: { top: 0, bottom: 0 } },
        },
        y: {
          type: 'logarithmic', position: 'left', min: 1e-10, max: 1e-3,
          grid: { display: false, drawTicks: false }, border: { display: false },
          afterBuildTicks: fixedTicks(currentTicksA),
          afterFit: (s: any) => { s.width = 131; },
          ticks: {
            callback: (v: number) => currentTickLabelsA[currentTicksA.indexOf(v)],
            color: INK, font: { size: 19 }, padding: 7, autoSkip: false,
          },
          title: { display: true, text: 'Current (A)', color: INK, font: { size: 25 }, padding: { top: 40, bottom: 0 } },
        },
      },
    },
    plugins: [
      framePlugin([
        { scale: 'x', major: timeSecTicks, minor: timeSecMinor, sides: ['bottom', 'top'] },
        { scale: 'y', major: currentTicksA, minor: logMinors(currentTicksA), sides: ['left', 'right'] },
      ]),
      annotations,
    ],
  };
}

// ---------------- components ----------------
interface PanelProps { left: number; top: number; width: number; height: number; make: () => any }

function Panel({ left, top, width, height, make }: PanelProps) {
  const ref = useRef<HTMLCanvasElement>(null);
  useEffect(() => {
    const chart = new Chart(ref.current as HTMLCanvasElement, make());
    return () => chart.destroy();
  }, []);
  return (
    <canvas
      ref={ref}
      width={width}
      height={height}
      style={{ position: 'absolute', left, top, width, height, display: 'block' }}
    />
  );
}

export default function App() {
  return (
    <div style={{ position: 'absolute', left: 0, top: 0, width: 1133, height: 907, background: '#ffffff', overflow: 'hidden' }}>
      <Panel left={0} top={0} width={600} height={430} make={makePanelA} />
      <Panel left={560} top={0} width={573} height={430} make={makePanelB} />
      <Panel left={0} top={460} width={560} height={447} make={makePanelC} />
      <Panel left={560} top={460} width={573} height={447} make={makePanelD} />
    </div>
  );
}
